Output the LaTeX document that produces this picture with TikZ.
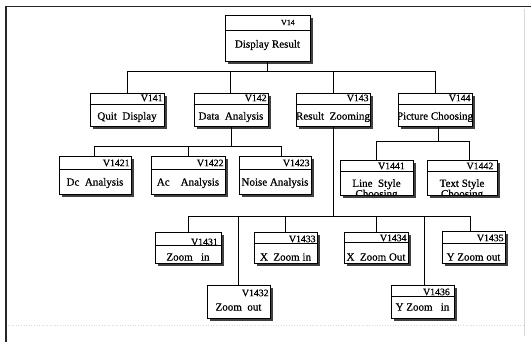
\documentclass[tikz,border=0pt]{standalone}
\usepackage{fontspec}
\setmainfont{Liberation Serif}
\newfontfamily\heavyserif[FakeBold=0.7]{Liberation Serif}
\usetikzlibrary{shadows,calc}

% box geometry keys (all in pt, measured from the box's top edge)
\pgfkeys{/tb/.cd,
  w/.initial=74, h/.initial=33, div/.initial=11, ly/.initial=5, ty/.initial=24, lx/.initial=1.2}

\tikzset{
  tb box/.style={draw, line width=0.8pt, fill=white, inner sep=0pt, outer sep=0pt,
    drop shadow={shadow xshift=2.6pt, shadow yshift=-2.6pt, fill=black!75, opacity=1}},
  tb rule/.style={line width=0.6pt},
  tb label/.style={inner sep=0pt, font=\heavyserif\fontsize{9.8}{10}\selectfont},
  tb text/.style={inner sep=0pt, align=center, font=\heavyserif\fontsize{11}{10.5}\selectfont},
  link/.style={line width=0.7pt},
  frame/.style={line width=1.1pt, black!85},
  faint/.style={line width=0.6pt, black!15}
}

% \tbox[geometry]{name}{top-left corner}{number}{title}
\newcommand\tbox[5][]{%
  \pgfkeys{/tb/.cd, w=74, h=33, div=11, ly=5, ty=24, lx=1.2, #1}%
  \node[tb box, anchor=north west,
    minimum width=\pgfkeysvalueof{/tb/w}pt,
    minimum height=\pgfkeysvalueof{/tb/h}pt] (#2) at (#3) {};
  \begin{scope}
    \clip (#2.south west) rectangle (#2.north east);
    \draw[tb rule]
      ([yshift=-\pgfkeysvalueof{/tb/div}pt]#2.north west) --
      ([yshift=-\pgfkeysvalueof{/tb/div}pt]#2.north east);
    \node[tb label, anchor=east]
      at ([xshift=-\pgfkeysvalueof{/tb/lx}pt, yshift=-\pgfkeysvalueof{/tb/ly}pt]#2.north east) {#4};
    \node[tb text]
      at ([yshift=-\pgfkeysvalueof{/tb/ty}pt]#2.north) {#5};
    \draw[line width=0.8pt] (#2.south west) rectangle (#2.north east);
  \end{scope}}

\begin{document}
\begin{tikzpicture}[x=1pt, y=-1pt]
\useasboundingbox (0,0) rectangle (531,342);

% page frame
\draw[frame] (6,342) -- (6,6.5) -- (531,6.5);
\draw[faint] (524,9) -- (524,336);
\draw[faint, dotted] (8,325) -- (524,325);

% root
\tbox[w=85, h=46, div=15, ly=7.5, ty=30, lx=15]{V14}{225,15}{\fontsize{8}{9}\selectfont V14}{Display Result}

% second level
\tbox{V141}{90,93}{V141}{Quit\ \ Display}
\tbox{V142}{194,93}{V142}{Data\ \ Analysis}
\tbox{V143}{296,93}{V143}{Result\ \ Zooming}
\tbox{V144}{398,93}{V144}{Picture Choosing}

% children of V142
\tbox[w=72, h=38, div=13, ly=7, ty=27]{V1421}{59,156}{V1421}{Dc\ \ Analysis}
\tbox[w=74, h=38, div=13, ly=7, ty=27]{V1422}{151,156}{V1422}{Ac\ \ \ \ Analysis}
\tbox[w=72, h=38, div=13, ly=7, ty=27]{V1423}{239,156}{V1423}{Noise Analysis}

% children of V144
\tbox[w=73, h=35, div=11, ly=6, ty=29.5, lx=8]{V1441}{340,160}{V1441}{Line\ \ Style\\Choosing}
\tbox[w=70, h=35, div=11, ly=6, ty=29.5, lx=3.5]{V1442}{427,160}{V1442}{Text Style\\Choosing}

% children of V143
\tbox[w=66, h=31, div=13, ly=10, ty=25, lx=3]{V1431}{155,232}{V1431}{Zoom\ \ \ in}
\tbox[w=63, h=33, div=-5, ly=8, ty=22]{V1432}{207,285}{V1432}{Zoom\ \ out}
\tbox[w=63, h=31, div=11, ly=7, ty=25]{V1433}{254,232}{V1433}{X\ \ Zoom in}
\tbox[w=64, h=31, div=10, ly=6, ty=25]{V1434}{344,232}{V1434}{X\ \ Zoom Out}
\tbox[w=63, h=32, div=12, ly=7, ty=26]{V1435}{442,231}{V1435}{Y Zoom out}
\tbox[w=63, h=33, div=11, ly=7, ty=22, lx=4]{V1436}{391,285}{V1436}{Y Zoom\ \ \ in}

% junctions of the connector buses
\coordinate (j14)  at (267.5,71);
\coordinate (j142) at (231,146);
\coordinate (j144) at (438,141);
\coordinate (j143) at (333,216);

% root to second level
\draw[link] (V14.south) -- (j14);
\draw[link] (j14) -| (V141.north);
\draw[link] (j14) -| ([xshift=-0.5pt]V142.north);
\draw[link] (j14) -| (V143.north);
\draw[link] (j14) -| (V144.north);

% V142 to its children
\draw[link] (j142 |- V142.south) -- (j142);
\draw[link] (j142) -| ([xshift=-1pt]V1421.north);
\draw[link] (j142) -| (V1422.north);
\draw[link] (j142) -| ([xshift=6pt]V1423.north);

% V144 to its children
\draw[link] (j144 |- V144.south) -- (j144);
\draw[link] (j144) -| (V1441.north);
\draw[link] (j144) -| ([xshift=7pt]V1442.north);

% V143 to its children
\draw[link] (j143 |- V143.south) -- (j143);
\draw[link] (j143) -| (V1431.north);
\draw[link] (j143) -| (V1432.north);
\draw[link] (j143) -| (V1433.north);
\draw[link] (j143) -| (V1434.north);
\draw[link] (j143) -| ([xshift=1.5pt]V1436.north);
\draw[link] (j143) -| ([xshift=-3.5pt]V1435.north);
\end{tikzpicture}
\end{document}
